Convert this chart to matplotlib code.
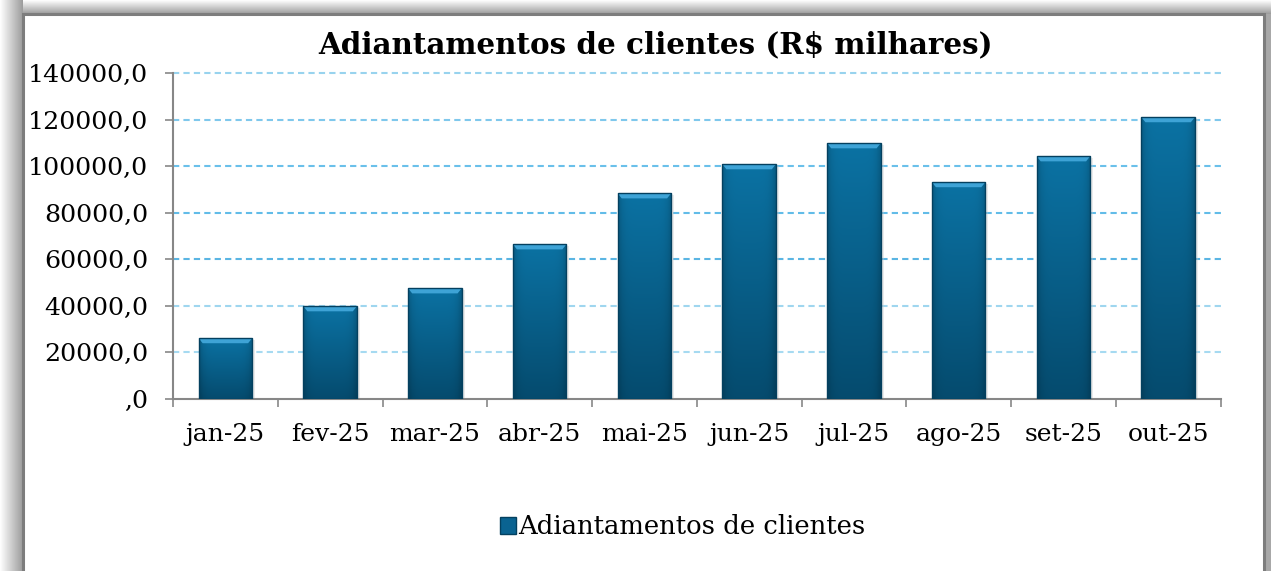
import numpy as np
import matplotlib
matplotlib.use('Agg')
import matplotlib.pyplot as plt
from matplotlib.colors import LinearSegmentedColormap, to_rgb
from matplotlib.patches import Rectangle, Polygon

# dados
meses = ['jan-25', 'fev-25', 'mar-25', 'abr-25', 'mai-25',
         'jun-25', 'jul-25', 'ago-25', 'set-25', 'out-25']
valores = [26100, 39800, 47500, 66400, 88300,
           100800, 109800, 93100, 104200, 121000]
titulo = 'Adiantamentos de clientes (R$ milhares)'
serie = 'Adiantamentos de clientes'
yticks = [0, 20000, 40000, 60000, 80000, 100000, 120000, 140000]

plt.rcParams['font.family'] = ['DejaVu Serif']

W, H = 1271, 571
fig = plt.figure(figsize=(W / 100, H / 100), dpi=100)

# fundo com moldura e sombra
bg = fig.add_axes([0, 0, 1, 1], zorder=-10)
bg.set_xlim(0, W)
bg.set_ylim(H, 0)
bg.axis('off')
grad = np.linspace(0, 1, 64)
sombra = LinearSegmentedColormap.from_list('sombra', ['#ffffff', '#9c9c9c'])
bg.imshow(grad[:, None], extent=(0, W, 14, 0), cmap=sombra, aspect='auto', origin='upper')
bg.imshow(grad[None, :], extent=(0, 23, H, 0), cmap=sombra, aspect='auto', origin='upper')
bg.add_patch(Rectangle((1264, 14), 7, H, facecolor='#a8a8a8', edgecolor='none'))
bg.add_patch(Rectangle((23, 14), 1241, H, facecolor='white', edgecolor='#7d7d7d', lw=2.2))
bg.set_xlim(0, W)
bg.set_ylim(H, 0)

# eixo principal
ax = fig.add_axes([173 / W, 1 - 399 / H, 1047.5 / W, 326 / H])
ax.set_facecolor('none')
x = np.arange(len(meses))
larg = 0.51

cores_grid = ['#a6daf1', '#9fd6ef', '#5ab5e3', '#62bce8', '#6ac0ea', '#7fc8ec', '#98d3ee']
for v, c in zip(yticks[1:], cores_grid):
    ax.axhline(v, color=c, ls=(0, (3, 2)), lw=1.5, zorder=1, clip_on=False)

barras = ax.bar(x, valores, width=larg, color='none', edgecolor='#04405f', lw=1.0, zorder=4)

# gradiente das barras
topo = np.array(to_rgb('#0b72a3'))
base = np.array(to_rgb('#054b6e'))
t = np.linspace(0, 1, 100)[:, None, None]
img = topo * (1 - t) + base * t
borda = 1 - 0.18 * np.abs(np.linspace(-1, 1, 40))[None, :, None] ** 6
img = np.clip(img * borda, 0, 1)

px_y = 140000 / 326
px_x = 1 / 104.75
for b, v in zip(barras, valores):
    x0 = b.get_x()
    x1 = x0 + b.get_width()
    ax.add_patch(Rectangle((x1, 0), 3 * px_x, v - 2 * px_y, facecolor='#c8c8c8',
                           alpha=0.35, edgecolor='none', zorder=2))
    im = ax.imshow(img, extent=(x0, x1, 0, v), aspect='auto', origin='upper', zorder=3)
    im.set_clip_path(b)
    ax.add_patch(Polygon([(x0, v), (x1, v), (x1 - 4 * px_x, v - 5 * px_y),
                          (x0 + 4 * px_x, v - 5 * px_y)],
                         closed=True, facecolor='#3ea3d6', edgecolor='none', zorder=3.5))

ax.set_xlim(-0.5, len(meses) - 0.5)
ax.set_ylim(0, 140000)
ax.set_aspect('auto')

ax.set_yticks(yticks)
ax.set_yticklabels([(f'{v:.1f}'.replace('.', ',') if v else ',0') for v in yticks])
ax.set_xticks(x)
ax.set_xticklabels(meses)
ax.set_xticks(np.arange(-0.5, len(meses), 1), minor=True)

for s in ['top', 'right']:
    ax.spines[s].set_visible(False)
for s in ['left', 'bottom']:
    ax.spines[s].set_color('#878787')
    ax.spines[s].set_linewidth(1.5)

ax.tick_params(axis='y', length=5.8, width=1.2, color='#878787', pad=12, labelsize=18.2)
ax.tick_params(axis='x', which='major', length=0, pad=17.5, labelsize=18)
ax.tick_params(axis='x', which='minor', length=5.8, width=1.2, color='#878787')

fig.text(655 / W, 1 - 45 / H, titulo, ha='center', va='center',
         fontsize=21.2, fontweight='bold')

marcador = Rectangle((0, 0), 1, 1, facecolor='#0a6391', edgecolor='#04405f')
fig.legend(handles=[marcador], labels=[serie], loc='center',
           bbox_to_anchor=(683 / W, 1 - 527 / H), frameon=False,
           handlelength=0.6, handleheight=0.6, handletextpad=0.1, fontsize=18.6)

fig.savefig('out.png', dpi=100)
